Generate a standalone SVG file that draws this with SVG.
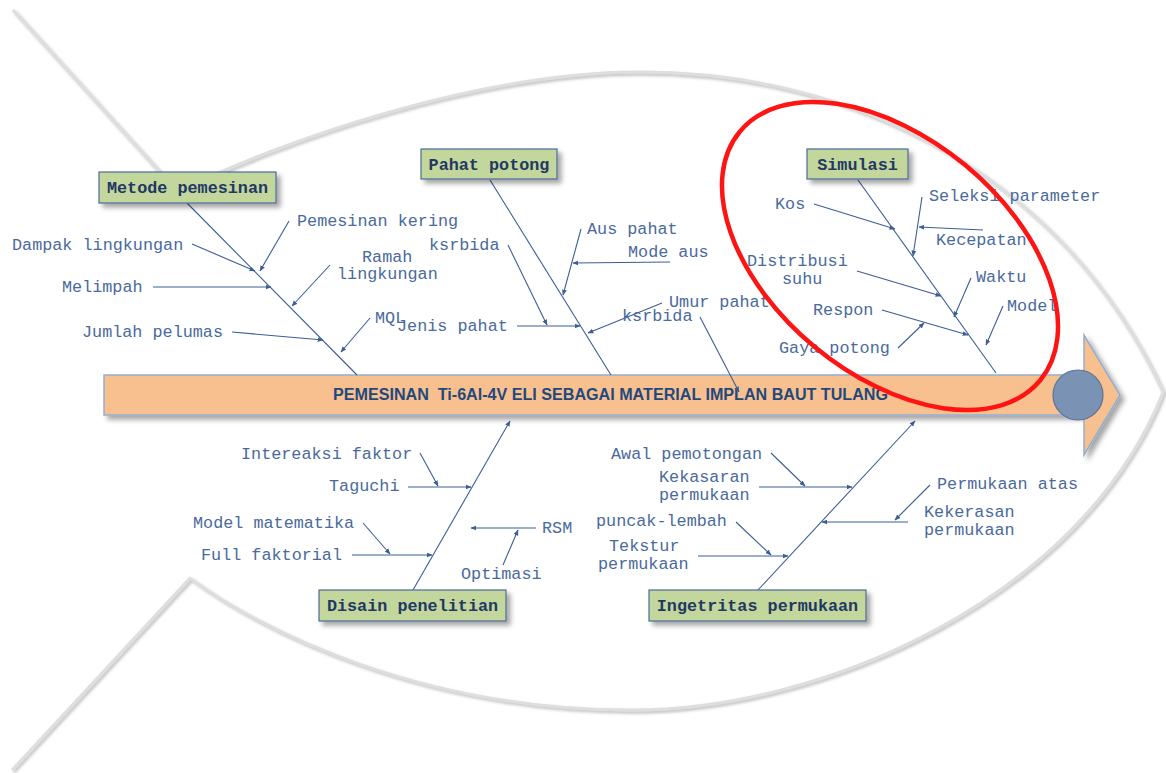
<svg xmlns="http://www.w3.org/2000/svg" width="1166" height="773" viewBox="0 0 1166 773">
<defs>
<style>
.lbl{font-family:"Liberation Mono","Courier New",monospace;font-size:16.8px;fill:#4a6a9c}
.box{fill:#c3d69b;stroke:#4a6c9b;stroke-width:1.2}
.btxt{font-family:"Liberation Mono","Courier New",monospace;font-size:16.8px;font-weight:bold;fill:#1f3864;text-anchor:middle}
.cn line,.cn path{stroke:#3c5e95;stroke-width:1.1;fill:none}
.arr{marker-end:url(#ah)}
.fish{fill:none;stroke:#dedede;stroke-width:2.8;stroke-linejoin:round}
</style>
<marker id="ah" viewBox="0 0 10 10" refX="9" refY="5" markerWidth="6" markerHeight="6" markerUnits="userSpaceOnUse" orient="auto">
<path d="M0,1 L10,5 L0,9 z" fill="#3c5e95"/>
</marker>
<filter id="sh" x="-10%" y="-20%" width="130%" height="160%">
<feDropShadow dx="4" dy="4" stdDeviation="2.5" flood-color="#000" flood-opacity="0.35"/>
</filter>
<filter id="fsh" x="-5%" y="-5%" width="110%" height="110%">
<feDropShadow dx="2" dy="2" stdDeviation="1.5" flood-color="#888" flood-opacity="0.6"/>
</filter>
</defs>
<rect width="1166" height="773" fill="#fff"/>
<g id="fish-outline" filter="url(#fsh)">
<path class="fish" d="M13,10 L178,192 C280,140 480,72 640,72 C850,72 1060,170 1163,392 C1080,600 820,710 632,710 C420,710 260,630 190,578 L12,770"/>
</g>
<g id="spine" filter="url(#sh)">
<path d="M104,375 H1084 V335 L1120,395 L1084,455 V415 H104 Z" fill="#f9c08f" stroke="#94aed0" stroke-width="1.5"/>
</g>
<g id="title">
<text x="333" y="399.5" xml:space="preserve" textLength="555" lengthAdjust="spacingAndGlyphs" font-family="'Liberation Sans',Arial,sans-serif" font-size="15.6" font-weight="bold" fill="#1f497d">PEMESINAN  Ti-6Al-4V ELI SEBAGAI MATERIAL IMPLAN BAUT TULANG</text>
</g>
<g id="head">
<circle cx="1078" cy="395" r="25" fill="#7a92b4" stroke="#5b7396" stroke-width="1.2"/>
</g>
<g id="connectors" class="cn">
<line x1="187" y1="203" x2="357" y2="375"/>
<line class="arr" x1="192" y1="244" x2="255" y2="271"/>
<line class="arr" x1="289" y1="221" x2="260" y2="271"/>
<line class="arr" x1="153" y1="287" x2="271" y2="287"/>
<line class="arr" x1="330" y1="265" x2="292" y2="306"/>
<line class="arr" x1="232" y1="332" x2="323" y2="340"/>
<line class="arr" x1="370" y1="318" x2="341" y2="352"/>
<line x1="490" y1="180" x2="611" y2="375"/>
<line class="arr" x1="508" y1="245" x2="547" y2="325"/>
<line class="arr" x1="581" y1="229" x2="563" y2="295"/>
<line class="arr" x1="670" y1="262" x2="573" y2="263"/>
<line class="arr" x1="517" y1="326" x2="580" y2="326"/>
<line class="arr" x1="662" y1="303" x2="588" y2="333"/>
<line class="arr" x1="700" y1="317" x2="739" y2="392"/>
<line x1="858" y1="180" x2="996" y2="373"/>
<line class="arr" x1="814" y1="204" x2="895" y2="229"/>
<line class="arr" x1="922" y1="197" x2="913" y2="256"/>
<line class="arr" x1="983" y1="230" x2="919" y2="227"/>
<line class="arr" x1="857" y1="271" x2="941" y2="296"/>
<line class="arr" x1="971" y1="278" x2="954" y2="317"/>
<line class="arr" x1="882" y1="310" x2="968" y2="335"/>
<line class="arr" x1="898" y1="348" x2="924" y2="323"/>
<line class="arr" x1="1003" y1="306" x2="986" y2="345"/>
<line class="arr" x1="413" y1="590" x2="510" y2="421"/>
<line class="arr" x1="420" y1="453" x2="438" y2="486"/>
<line class="arr" x1="408" y1="487" x2="471" y2="487"/>
<line class="arr" x1="363" y1="523" x2="390" y2="554"/>
<line class="arr" x1="352" y1="555" x2="432" y2="555"/>
<line class="arr" x1="536" y1="528" x2="471" y2="528"/>
<line class="arr" x1="503" y1="565" x2="518" y2="530"/>
<line class="arr" x1="758" y1="590" x2="915" y2="421"/>
<line class="arr" x1="771" y1="453" x2="805" y2="486"/>
<line class="arr" x1="759" y1="487" x2="852" y2="487"/>
<line class="arr" x1="930" y1="485" x2="895" y2="520"/>
<line class="arr" x1="908" y1="522" x2="822" y2="522"/>
<line class="arr" x1="736" y1="522" x2="771" y2="555"/>
<line class="arr" x1="698" y1="556" x2="788" y2="556"/>
</g>
<g id="metode-pemesinan">
<rect class="box" x="99" y="172" width="177" height="31" filter="url(#sh)"/>
<text class="btxt" x="187.5" y="193">Metode pemesinan</text>
</g>
<g id="pahat-potong">
<rect class="box" x="421" y="149" width="136" height="30" filter="url(#sh)"/>
<text class="btxt" x="489" y="170">Pahat potong</text>
</g>
<g id="simulasi">
<rect class="box" x="807" y="149" width="101" height="30" filter="url(#sh)"/>
<text class="btxt" x="857.5" y="170">Simulasi</text>
</g>
<g id="disain-penelitian">
<rect class="box" x="319" y="590" width="187" height="31" filter="url(#sh)"/>
<text class="btxt" x="412.5" y="611">Disain penelitian</text>
</g>
<g id="ingetritas-permukaan">
<rect class="box" x="649" y="590" width="217" height="31" filter="url(#sh)"/>
<text class="btxt" x="757.5" y="611">Ingetritas permukaan</text>
</g>
<g id="labels">
<text class="lbl" x="12" y="250">Dampak lingkungan</text>
<text class="lbl" x="297" y="226">Pemesinan kering</text>
<text class="lbl" x="362" y="262">Ramah</text>
<text class="lbl" x="337" y="279">lingkungan</text>
<text class="lbl" x="62" y="292">Melimpah</text>
<text class="lbl" x="82" y="337">Jumlah pelumas</text>
<text class="lbl" x="375" y="323">MQL</text>
<text class="lbl" x="429" y="250">ksrbida</text>
<text class="lbl" x="587" y="234">Aus pahat</text>
<text class="lbl" x="628" y="257">Mode aus</text>
<text class="lbl" x="669" y="307">Umur pahat</text>
<text class="lbl" x="622" y="321">ksrbida</text>
<text class="lbl" x="397" y="331">Jenis pahat</text>
<text class="lbl" x="775" y="209">Kos</text>
<text class="lbl" x="929" y="201">Seleksi parameter</text>
<text class="lbl" x="936" y="245">Kecepatan</text>
<text class="lbl" x="747" y="266">Distribusi</text>
<text class="lbl" x="782" y="284">suhu</text>
<text class="lbl" x="976" y="282">Waktu</text>
<text class="lbl" x="1007" y="311">Model</text>
<text class="lbl" x="813" y="315">Respon</text>
<text class="lbl" x="779" y="353">Gaya potong</text>
<text class="lbl" x="241" y="459">Intereaksi faktor</text>
<text class="lbl" x="329" y="491">Taguchi</text>
<text class="lbl" x="193" y="528">Model matematika</text>
<text class="lbl" x="201" y="560">Full faktorial</text>
<text class="lbl" x="542" y="533">RSM</text>
<text class="lbl" x="461" y="579">Optimasi</text>
<text class="lbl" x="611" y="459">Awal pemotongan</text>
<text class="lbl" x="659" y="482">Kekasaran</text>
<text class="lbl" x="659" y="500">permukaan</text>
<text class="lbl" x="596" y="526">puncak-lembah</text>
<text class="lbl" x="609" y="551">Tekstur</text>
<text class="lbl" x="598" y="569">permukaan</text>
<text class="lbl" x="937" y="489">Permukaan atas</text>
<text class="lbl" x="924" y="517">Kekerasan</text>
<text class="lbl" x="924" y="535">permukaan</text>
</g>
<g id="highlight">
<ellipse cx="890" cy="256" rx="195" ry="118" transform="rotate(39.6 890 256)" fill="none" stroke="#ff1414" stroke-width="4.5"/>
</g>
</svg>
